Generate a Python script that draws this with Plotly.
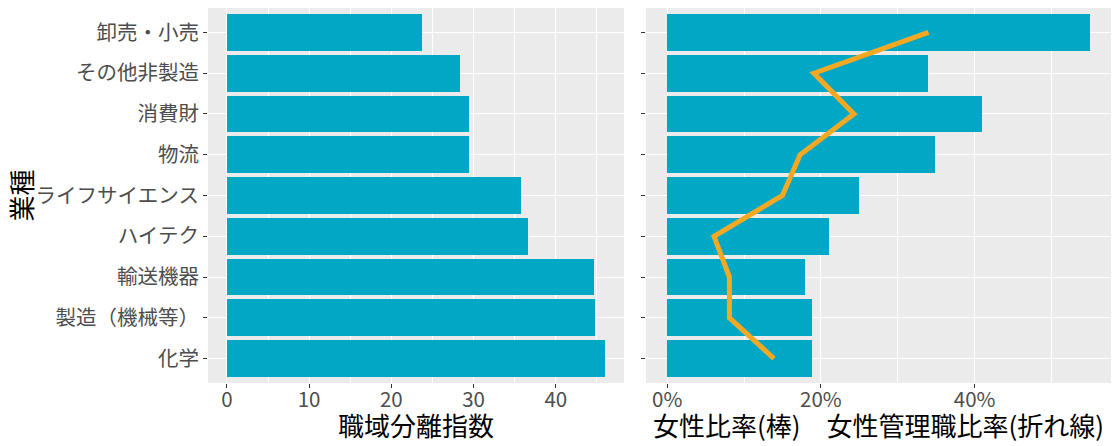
import plotly.graph_objects as go

categories = ["卸売・小売", "その他非製造", "消費財", "物流", "ライフサイエンス",
              "ハイテク", "輸送機器", "製造（機械等）", "化学"]
segregation_index = [23.7, 28.3, 29.4, 29.4, 35.8, 36.6, 44.7, 44.8, 46.0]
female_ratio = [0.550, 0.340, 0.410, 0.349, 0.250, 0.210, 0.180, 0.189, 0.189]
female_manager_ratio = [0.340, 0.191, 0.243, 0.173, 0.150, 0.061, 0.081, 0.081, 0.139]

x_ticks_left = [0, 10, 20, 30, 40]
x_ticks_right = [0.0, 0.2, 0.4]
x_tick_labels_right = ["0%", "20%", "40%"]

FONT = "Noto Sans CJK JP"
BAR = "#00A8C6"
LINE = "#F7A823"
PANEL = "#EBEBEB"
TICKC = "#4D4D4D"

W, H = 1119, 446
L, R, T, B = 208, 8, 8, 63
pw = W - L - R
ph = H - T - B
d1 = [0, (624 - L) / pw]
d2 = [(646 - L) / pw, 1]

fig = go.Figure()
fig.add_trace(go.Bar(x=segregation_index, y=categories, orientation="h", width=0.9,
                     marker=dict(color=BAR, line=dict(width=0)),
                     xaxis="x", yaxis="y", showlegend=False))
fig.add_trace(go.Bar(x=female_ratio, y=categories, orientation="h", width=0.9,
                     marker=dict(color=BAR, line=dict(width=0)),
                     xaxis="x2", yaxis="y2", showlegend=False))
fig.add_trace(go.Scatter(x=female_manager_ratio, y=categories, mode="lines",
                         line=dict(color=LINE, width=5),
                         xaxis="x2", yaxis="y2", showlegend=False))

mx1 = max(segregation_index)
mx2 = max(female_ratio)
cat_order = list(reversed(categories))

common_x = dict(showgrid=True, gridcolor="white", gridwidth=1.1, zeroline=False,
                ticks="outside", ticklen=4, tickcolor="#333333", tickwidth=1,
                ticklabelstandoff=-6,
                tickfont=dict(family=FONT, size=20.5, color=TICKC),
                showline=False, fixedrange=True)
common_y = dict(type="category", categoryorder="array", categoryarray=cat_order,
                range=[-0.6, len(categories) - 0.4],
                showgrid=True, gridcolor="white", gridwidth=1.1, zeroline=False,
                ticks="outside", ticklen=4, tickcolor="#333333", tickwidth=1,
                ticklabelstandoff=0,
                tickfont=dict(family=FONT, size=20.5, color=TICKC), showline=False,
                fixedrange=True)

fig.update_layout(
    width=W, height=H,
    margin=dict(l=L, r=R, t=T, b=B, autoexpand=False),
    paper_bgcolor="white", plot_bgcolor=PANEL,
    font=dict(family=FONT),
    bargap=0,
    hovermode=False,
    xaxis=dict(domain=d1, anchor="y", range=[-0.05 * mx1, 1.05 * mx1],
               tickvals=x_ticks_left, ticktext=[str(v) for v in x_ticks_left],
               minor=dict(dtick=5, tick0=0, showgrid=True, gridcolor="white", gridwidth=0.55, ticks=""),
               **common_x),
    xaxis2=dict(domain=d2, anchor="y2", range=[-0.05 * mx2, 1.05 * mx2],
                tickvals=x_ticks_right, ticktext=x_tick_labels_right,
                minor=dict(dtick=0.1, tick0=0, showgrid=True, gridcolor="white", gridwidth=0.55, ticks=""),
                **common_x),
    yaxis=dict(anchor="x", showticklabels=True, **common_y),
    yaxis2=dict(anchor="x2", matches="y", showticklabels=False, **common_y),
    annotations=[
        dict(text="職域分離指数", xref="paper", yref="paper",
             x=(d1[0] + d1[1]) / 2, y=-(424 - 383) / ph,
             xanchor="center", yanchor="middle", showarrow=False,
             font=dict(family=FONT, size=26, color="black")),
        dict(text="女性比率(棒)　女性管理職比率(折れ線)", xref="paper", yref="paper",
             x=(d2[0] + d2[1]) / 2, y=-(424 - 383) / ph,
             xanchor="center", yanchor="middle", showarrow=False,
             font=dict(family=FONT, size=26, color="black")),
        dict(text="業種", xref="paper", yref="paper",
             x=(20 - L) / pw, y=0.5, textangle=-90,
             xanchor="center", yanchor="middle", showarrow=False,
             font=dict(family=FONT, size=26, color="black")),
    ],
)

fig.write_html("out.html", config={"displayModeBar": False},
               post_script="document.body.style.margin='0';document.body.style.overflow='hidden';")
